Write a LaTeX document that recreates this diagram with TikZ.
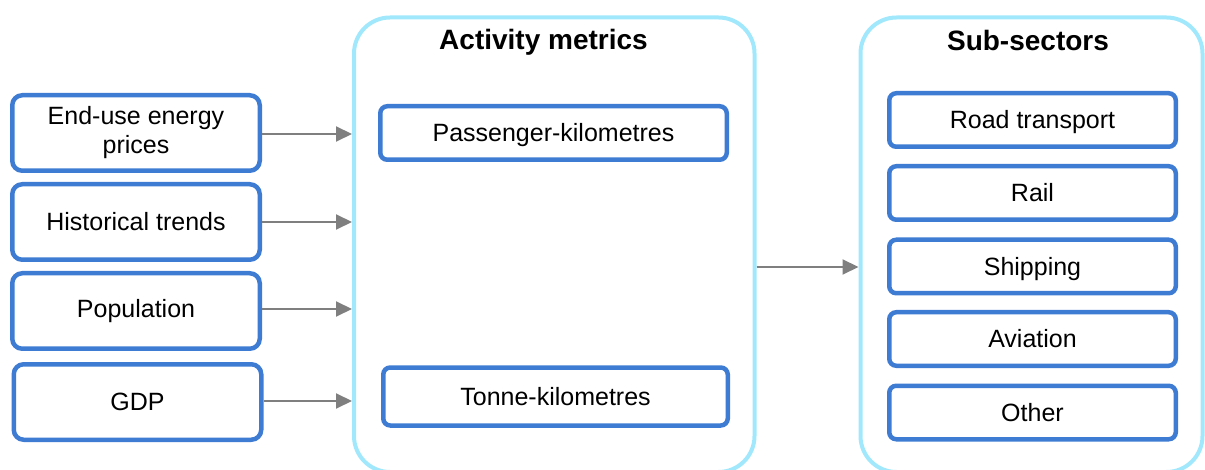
\documentclass[tikz,border=0pt]{standalone}
\usepackage{fontspec}
\setmainfont{Liberation Sans}
\usetikzlibrary{arrows.meta}
\definecolor{boxblue}{RGB}{62,123,211}
\definecolor{groupcyan}{RGB}{162,232,252}
\definecolor{arrowgray}{RGB}{127,127,127}
\begin{document}
\begin{tikzpicture}[x=1pt,y=1pt,
  inputbox/.style={draw=boxblue, line width=4.5pt, rounded corners=10pt,
    minimum width=247.5pt, minimum height=75.5pt, inner sep=0pt,
    align=center, font=\fontsize{25}{29}\selectfont},
  itembox/.style={draw=boxblue, line width=4.5pt, rounded corners=7pt,
    minimum height=53.5pt, inner sep=0pt, text height=18pt, text depth=0pt,
    font=\fontsize{25}{29}\selectfont},
  groupbox/.style={draw=groupcyan, line width=4pt, rounded corners=36pt,
    minimum height=454.5pt, inner sep=0pt},
  grouptitle/.style={font=\bfseries\fontsize{28}{32}\selectfont, inner sep=0pt},
  flow/.style={draw=arrowgray, line width=2pt,
    -{Triangle[length=16pt,width=15pt]}}]
\useasboundingbox (0,0) rectangle (1205,-470);

% groups (their lower edge runs just past the page)
\node[groupbox, minimum width=400.5pt] (metrics) at (554.25,-244.75) {};
\node[groupbox, minimum width=342pt] (sectors) at (1031.5,-244.75) {};
\node[grouptitle] (metricsT) at (543.5,-42) {Activity metrics};
\node[grouptitle] (sectorsT) at (1028,-40) {Sub-sectors};

% drivers
\node[inputbox] (prices) at (136,-133) {End-use energy\\prices};
\node[inputbox] (trends) at (136,-222) {Historical trends};
\node[inputbox] (pop)    at (136,-311) {Population};
\node[inputbox] (gdp)    at (137.5,-402) {GDP};

% activity metrics
\node[itembox, minimum width=346.5pt] (pkm) at (553.5,-133) {Passenger-kilometres};
\node[itembox, minimum width=344.5pt, minimum height=58pt] (tkm) at (555.5,-396.5) {Tonne-kilometres};

% sub-sectors
\node[itembox, minimum width=286.5pt] (road) at (1032.5,-120) {Road transport};
\node[itembox, minimum width=286.5pt] (rail) at (1032.5,-193) {Rail};
\node[itembox, minimum width=286.5pt] (ship) at (1032.5,-266.5) {Shipping};
\node[itembox, minimum width=286.5pt] (avia) at (1032.5,-339) {Aviation};
\node[itembox, minimum width=286.5pt] (other) at (1032.5,-412.5) {Other};

% connectors
\draw[flow] ([yshift=-1pt]prices.east) -- ([yshift=-1pt]prices.east -| metrics.west);
\draw[flow] (trends.east) -- (trends.east -| metrics.west);
\draw[flow] ([yshift=2pt]pop.east) -- ([yshift=2pt]pop.east -| metrics.west);
\draw[flow] ([yshift=1pt]gdp.east) -- ([yshift=1pt]gdp.east -| metrics.west);
\coordinate (mid) at (0,-267);
\draw[flow] (mid -| metrics.east) -- (mid -| sectors.west);
\end{tikzpicture}
\end{document}
